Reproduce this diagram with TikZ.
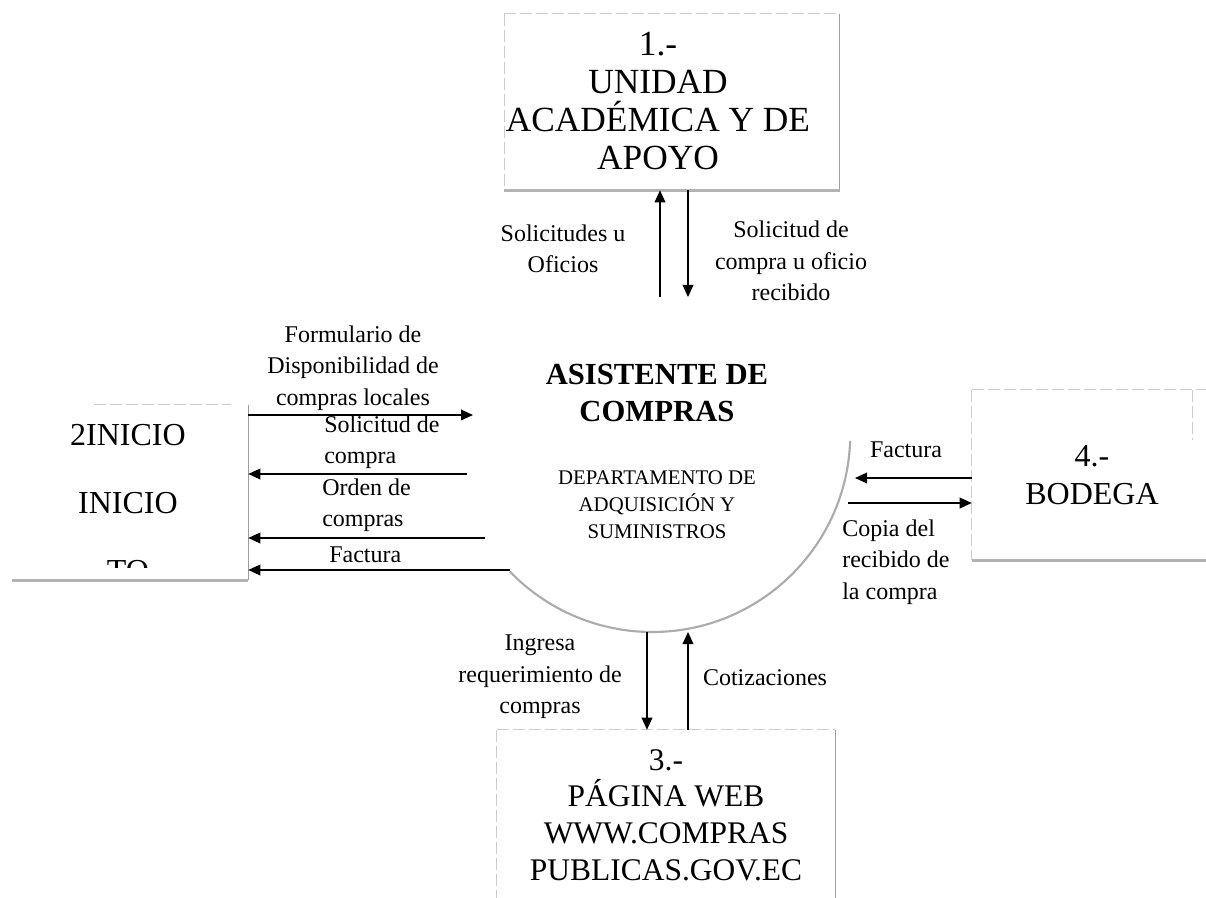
\documentclass[tikz,border=0pt]{standalone}
\usepackage{fontspec}
\setmainfont{Liberation Serif}
\usetikzlibrary{arrows.meta}
\begin{document}
\begin{tikzpicture}[x=0.75pt,y=-0.75pt,
  flow/.style={line width=1pt,-{Triangle[length=9pt,width=8pt]}},
  lbl/.style={inner sep=0pt,font=\fontsize{18}{23.5}\selectfont},
  extbox/.style={inner sep=0pt,align=center},
  faintedge/.style={draw=gray!40,line width=0.6pt,dash pattern=on 9pt off 3pt},
  sideedge/.style={draw=gray!75,line width=0.8pt},
  shadowedge/.style={draw=gray!60,line width=2.2pt},
  arcline/.style={draw=gray!65,line width=1.6pt}
]
\useasboundingbox[fill=white] (0,0) rectangle (1206,898);

% ---- external entities
\node[extbox,minimum width=251pt,minimum height=132pt] (unidad) at (672,102) {};
\node[extbox,font=\fontsize{26.5}{28.3}\selectfont] (unidadtxt) at (658,101)
      {1.-\\UNIDAD\\ACADÉMICA Y DE\\APOYO};
\draw[faintedge] (unidad.north west) -- (unidad.north east);
\draw[faintedge] (unidad.north west) -- (unidad.south west);
\draw[sideedge] (unidad.north east) -- (unidad.south east);
\draw[shadowedge] (unidad.south west) -- (unidad.south east);

\node[extbox,minimum width=177pt,minimum height=131.25pt] (inicio) at (130,492.5) {};
\begin{scope}
  \clip (12,405) rectangle (248,567);
  \node[extbox,font=\fontsize{24}{51}\selectfont] (iniciotxt) at (128,503)
        {2INICIO\\INICIO\\TO};
\end{scope}
\draw[faintedge] ([xshift=62pt]inicio.north west) -- ([xshift=-13pt]inicio.north east);
\draw[sideedge] (inicio.north east) -- (inicio.south east);
\draw[shadowedge] (inicio.south west) -- (inicio.south east);

\node[extbox,minimum width=180pt,minimum height=127.5pt,
      font=\fontsize{24}{29}\selectfont] (bodega) at (1092,475)
      {4.-\\BODEGA};
\draw[faintedge] (bodega.north west) -- (bodega.north east);
\draw[faintedge] (bodega.north west) -- (bodega.south west);
\draw[faintedge] ([xshift=-15pt]bodega.north east) -- ([xshift=-15pt,yshift=-37.5pt]bodega.north east);
\draw[shadowedge] (bodega.south west) -- (bodega.south east);

\node[extbox,minimum width=253.5pt,minimum height=127.5pt,
      font=\fontsize{23.6}{27.5}\selectfont] (pagina) at (666,815)
      {3.-\\PÁGINA WEB\\WWW.COMPRAS\\PUBLICAS.GOV.EC};
\draw[faintedge] (pagina.north west) -- (pagina.north east);
\draw[faintedge] (pagina.north west) -- (pagina.south west);
\draw[sideedge] (pagina.north east) -- (pagina.south east);

% ---- process
\node[circle,minimum size=297pt,inner sep=0pt] (asis) at (652,434) {};
\draw[arcline] (asis.-2) arc[start angle=-2,end angle=-136,radius=148.5pt];
\node[extbox,font=\bfseries\fontsize{23}{27.75}\selectfont] (asistitle) at (657,393)
      {ASISTENTE DE\\COMPRAS};
\node[extbox,font=\fontsize{15.6}{20.2}\selectfont] (asisdept) at (657,505)
      {DEPARTAMENTO DE\\ADQUISICIÓN Y\\SUMINISTROS};

% ---- flows with unidad
\coordinate (t1) at (660,297);
\coordinate (t2) at (688,297);
\draw[flow] (t1) -- (t1 |- unidad.south);
\draw[flow] (t2 |- unidad.south) -- (t2);
\node[lbl,align=center] (lt1) at (563,249) {Solicitudes u\\Oficios};
\node[lbl,align=center] (lt2) at (791,261) {Solicitud de\\compra u oficio\\recibido};

% ---- flows with inicio
\coordinate (l1) at (473,415);
\coordinate (l2) at (467,474);
\coordinate (l3) at (485,538);
\coordinate (l4) at (510,570);
\draw[flow] (l1 -| inicio.east) -- (l1);
\draw[flow] (l2) -- (l2 -| inicio.east);
\draw[flow] (l3) -- (l3 -| inicio.east);
\draw[flow] (l4) -- (l4 -| inicio.east);
\node[lbl,align=center] (ll1) at (353,368) {Formulario de\\Disponibilidad de\\compras locales};
\node[lbl,align=left,anchor=west] (ll2) at (324,442) {Solicitud de\\compra};
\node[lbl,align=left,anchor=west] (ll3) at (322,505) {Orden de\\compras};
\node[lbl,anchor=west] (ll4) at (329,555) {Factura};

% ---- flows with bodega
\coordinate (r1) at (855,478);
\coordinate (r2) at (848,503);
\draw[flow] (r1 -| bodega.west) -- (r1);
\draw[flow] (r2) -- (r2 -| bodega.west);
\node[lbl] (lr1) at (906,450) {Factura};
\node[lbl,align=left,anchor=west] (lr2) at (842,562) {Copia del\\recibido de\\la compra};

% ---- flows with pagina
\coordinate (b1) at (647,632);
\coordinate (b2) at (688,632);
\draw[flow] (b1) -- (b1 |- pagina.north);
\draw[flow] (b2 |- pagina.north) -- (b2);
\node[lbl,align=center] (lb1) at (540,677) {Ingresa\\requerimiento de\\compras};
\node[lbl] (lb2) at (765,678) {Cotizaciones};
\end{tikzpicture}
\end{document}
